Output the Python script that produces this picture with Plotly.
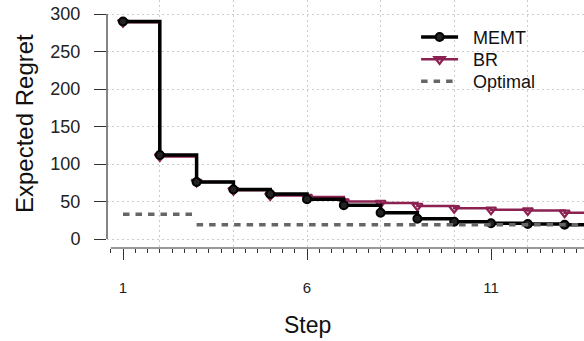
import plotly.graph_objects as go

steps = list(range(1, 15))
memt = [290, 112, 76, 66, 60, 53, 45, 35, 27, 23, 21, 20, 19, 19]
br = [289, 110, 76, 65, 58, 56, 50, 48, 44, 41, 39, 38, 35, 35]
optimal = [33, 33, 19, 19, 19, 19, 19, 19, 19, 19, 19, 19, 19, 19]
x_tick_vals = [1, 6, 11]
y_tick_vals = [0, 50, 100, 150, 200, 250, 300]

FONT = "Liberation Sans, Arial, sans-serif"
AX = "#333333"
GRID = "#cccccc"
BRC = "#8B2252"
NB = "\u00a0\u00a0"

xr = [0.5652, 13.527]
yr = [-12, 318.67]

# optimal drawn as separate horizontal segments (break where the value changes)
ox, oy = [], []
i = 0
while i < len(steps):
    j = i
    while j + 1 < len(steps) and optimal[j + 1] == optimal[i]:
        j += 1
    end = steps[j + 1] if j + 1 < len(steps) else steps[j]
    ox += [steps[i], end, None]
    oy += [optimal[i], optimal[i], None]
    i = j + 1

fig = go.Figure()
fig.add_trace(go.Scatter(x=steps, y=br, name=NB + "BR", mode="lines+markers", line_shape="hv",
                         line=dict(color=BRC, width=2.5),
                         marker=dict(symbol="triangle-down-open", size=9, color=BRC, line=dict(width=2.2, color=BRC)),
                         legend="legend2"))
fig.add_trace(go.Scatter(x=steps, y=memt, name=NB + "MEMT", mode="lines+markers", line_shape="hv",
                         line=dict(color="black", width=3.5),
                         marker=dict(symbol="circle", size=8, color="#222222", line=dict(width=2, color="black")),
                         legend="legend"))
fig.add_trace(go.Scatter(x=ox, y=oy, name=NB + "Optimal", mode="lines",
                         line=dict(color="#666666", width=3.5, dash="6.5px,6px"),
                         legend="legend3"))

def leg(ytop):
    return dict(x=0.648, y=ytop, xanchor="left", yanchor="top", bgcolor="rgba(0,0,0,0)",
                font=dict(size=18, family=FONT, color="#111111"), itemwidth=37)

fig.update_layout(
    width=584, height=341,
    margin=dict(l=107, r=0, t=0, b=93),
    paper_bgcolor="white", plot_bgcolor="white",
    font=dict(family=FONT, color="#222222"),
    showlegend=True,
    legend=leg(0.924), legend2=leg(0.834), legend3=leg(0.746),
    xaxis=dict(range=xr, tickvals=x_tick_vals, ticktext=[str(v) for v in x_tick_vals],
               ticks="outside", ticklen=11, tickcolor=AX, tickwidth=1,
               minor=dict(dtick=1/3, tick0=1, ticks="outside", ticklen=4, tickcolor=AX, showgrid=False),
               showgrid=False, zeroline=False, showline=False,
               tickfont=dict(size=15, family=FONT, color="#222222"), ticklabelstandoff=15),
    xaxis2=dict(range=xr, overlaying="x", dtick=2, tick0=0, showgrid=True, gridcolor=GRID,
                griddash="2px,3px", gridwidth=1, showticklabels=False, ticks="", zeroline=False,
                showline=False),
    yaxis=dict(range=yr, tickvals=y_tick_vals, ticks="outside", ticklen=12, tickcolor=AX,
               showgrid=True, gridcolor=GRID, griddash="2px,3px", gridwidth=1,
               zeroline=False, showline=False,
               tickfont=dict(size=18, family=FONT, color="#222222"), ticklabelstandoff=10),
)
# invisible trace on xaxis2 so its grid renders
fig.add_trace(go.Scatter(x=[steps[0]], y=[memt[0]], xaxis="x2", mode="markers",
                         marker=dict(opacity=0), showlegend=False, hoverinfo="skip"))

# axis lines (R-style, offset)
x_start = steps[0] - 1/3
fig.add_shape(type="line", xref="paper", yref="paper",
              x0=(x_start - xr[0]) / (xr[1] - xr[0]), x1=1, y0=0, y1=0,
              line=dict(color=AX, width=1.2))
fig.add_shape(type="line", xref="paper", yref="y", x0=0, x1=0,
              y0=y_tick_vals[0], y1=y_tick_vals[-1], line=dict(color=AX, width=1.2))

fig.add_annotation(text="Step", xref="paper", yref="paper", x=(307 - 107) / 477,
                   y=-0.31, showarrow=False, font=dict(size=23, family=FONT, color="#111111"),
                   xanchor="center", yanchor="middle")
fig.add_annotation(text="Expected Regret", xref="paper", yref="paper", x=-0.174, y=0.5,
                   textangle=-90, showarrow=False, font=dict(size=24, family=FONT, color="#111111"),
                   xanchor="center", yanchor="middle")

fig.write_html("out.html")
